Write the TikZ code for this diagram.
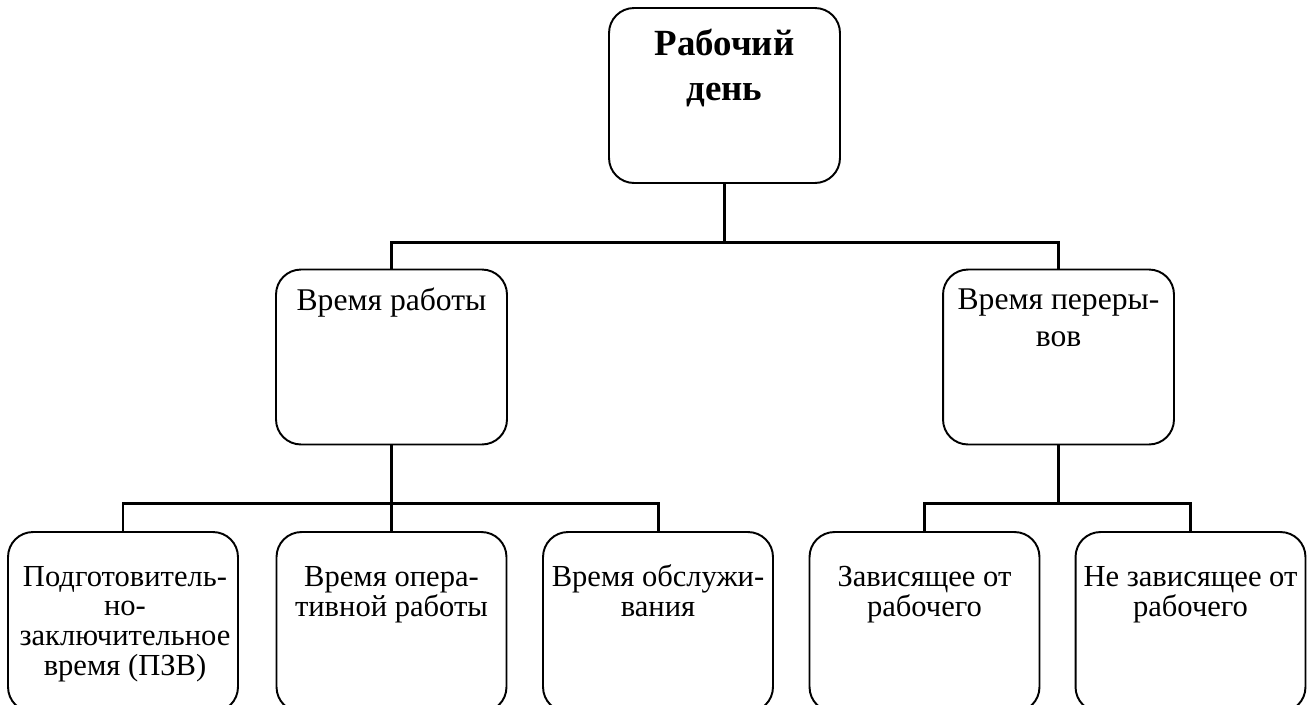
\documentclass[tikz,border=0pt]{standalone}
\usepackage{fontspec}
\setmainfont{Liberation Serif}
\begin{document}
\begin{tikzpicture}[x=0.02cm,y=-0.02cm,
    box/.style={draw,line width=1.1pt,rounded corners=0.5cm,minimum width=4.62cm,
      minimum height=3.5cm,inner sep=0pt},
    lowbox/.style={box,minimum width=4.6cm,minimum height=3.6cm},
    lbl/.style={anchor=base,align=center,inner sep=0pt,font=\fontsize{18}{21}\selectfont},
    lowlbl/.style={lbl,font=\fontsize{17.4}{16.8}\selectfont},
    link/.style={line width=1.7pt}]
  \useasboundingbox (0,0) rectangle (1315,704);
  % boxes
  \node[box] (rd) at (724.5,95.5) {};
  \node[box] (vr) at (391.5,357) {};
  \node[box] (vp) at (1058.5,357) {};
  \node[lowbox] (pzv) at (123,622) {};
  \node[lowbox] (vor) at (391.5,622) {};
  \node[lowbox] (vob) at (658,622) {};
  \node[lowbox] (zav) at (924.5,622) {};
  \node[lowbox] (nzav) at (1190.5,622) {};
  % texts (anchored at the last line)
  \node[lbl,font=\bfseries\fontsize{21}{25.6}\selectfont] (trd) at (724.5,100) {Рабочий\\день};
  \node[lbl] (tvr) at (391.5,310) {Время работы};
  \node[lbl] (tvp) at (1058.5,346) {Время переры-\\вов};
  \node[lowlbl] (tpzv) at (125,675) {Подготовитель-\\но-\\заключительное\\время (ПЗВ)};
  \node[lowlbl] (tvor) at (391.5,616) {Время опера-\\тивной работы};
  \node[lowlbl] (tvob) at (658,616) {Время обслужи-\\вания};
  \node[lowlbl] (tzav) at (924.5,616) {Зависящее от\\рабочего};
  \node[lowlbl] (tnzav) at (1190.5,616) {Не зависящее от\\рабочего};
  % connectors
  \coordinate (j1) at (724.5,242);
  \coordinate (j2) at (391.5,503);
  \coordinate (j3) at (1058.5,503);
  \draw[link] (rd.south) -- (j1);
  \draw[link] (j1) -| (vr.north);
  \draw[link] (j1) -| (vp.north);
  \draw[link] (vr.south) -- (vor.north);
  \draw[link] (j2) -| (pzv.north);
  \draw[link] (j2) -| (vob.north);
  \draw[link] (vp.south) -- (j3);
  \draw[link] (j3) -| (zav.north);
  \draw[link] (j3) -| (nzav.north);
\end{tikzpicture}
\end{document}
